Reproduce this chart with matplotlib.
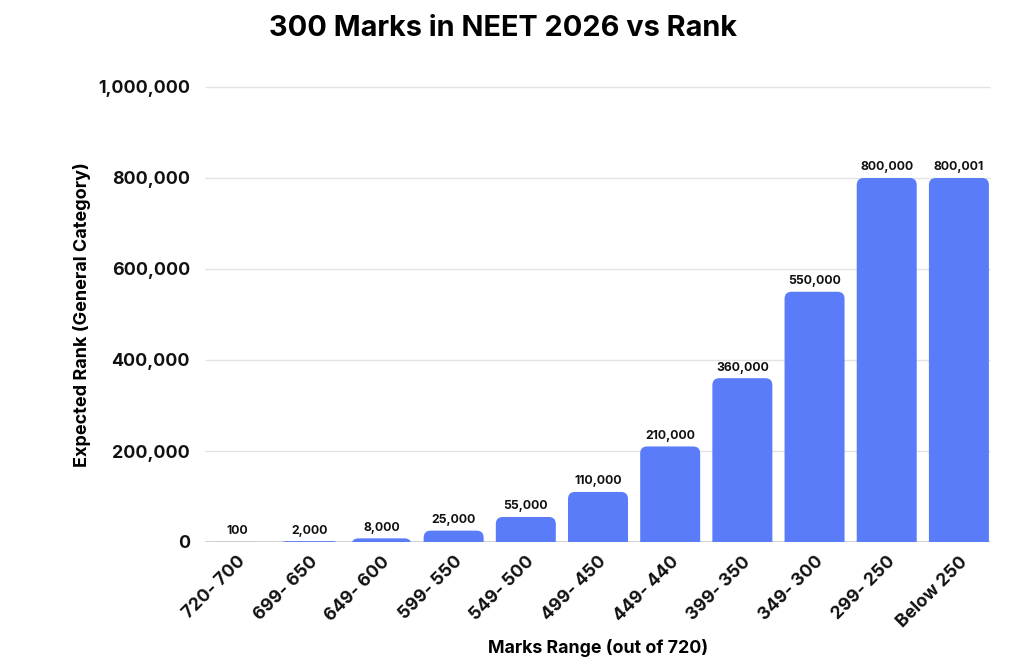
import matplotlib
matplotlib.use("Agg")
import matplotlib.pyplot as plt
from matplotlib.patches import FancyBboxPatch
from matplotlib.ticker import FuncFormatter

categories = ["720- 700", "699- 650", "649- 600", "599- 550", "549- 500", "499- 450",
              "449- 440", "399- 350", "349- 300", "299- 250", "Below 250"]
ranks = [100, 2000, 8000, 25000, 55000, 110000, 210000, 360000, 550000, 800000, 800001]
value_labels = ["100", "2,000", "8,000", "25,000", "55,000", "110,000", "210,000",
                "360,000", "550,000", "800,000", "800,001"]
yticks = [0, 200000, 400000, 600000, 800000, 1000000]

plt.rcParams['font.family'] = ['Inter', 'DejaVu Sans']
BAR = "#5A7CF8"

W, H = 1030, 665
fig = plt.figure(figsize=(W / 100, H / 100), dpi=100)
left, right, bottom_px, top_px = 201, 995, 542, 80
ymax = 1000000 * (bottom_px - top_px) / (bottom_px - 87)
ax = fig.add_axes([left / W, (H - bottom_px) / H, (right - left) / W, (bottom_px - top_px) / H])
ax.set_xlim(-0.5, len(categories) - 0.5)
ax.set_ylim(0, ymax)

xpx = (right - left) / len(categories)
ypx = (bottom_px - top_px) / ymax
bw = 60 / xpx
r_px = 7
for i, v in enumerate(ranks):
    ext = r_px * 2 / ypx
    p = FancyBboxPatch((i - bw / 2, -ext), bw, v + ext,
                       boxstyle=f"round,pad=0,rounding_size={r_px / xpx}",
                       mutation_aspect=xpx / ypx,
                       facecolor=BAR, edgecolor="none", zorder=3)
    ax.add_patch(p)
    ax.text(i, v + 10000, value_labels[i], ha="center", va="bottom",
            fontsize=8.8, fontweight="bold", color="#111111", zorder=4)

ax.set_yticks(yticks)
ax.yaxis.set_major_formatter(FuncFormatter(lambda v, p: f"{int(v):,}"))
ax.set_xticks(range(len(categories)))
ax.set_xticklabels(categories, rotation=45, ha="right", rotation_mode="anchor")
for lab in ax.get_yticklabels():
    lab.set_fontsize(12.8)
    lab.set_fontweight("bold")
    lab.set_color("#111111")
for lab in ax.get_xticklabels():
    lab.set_fontsize(12.8)
    lab.set_fontweight("bold")
    lab.set_color("#111111")
ax.tick_params(axis="both", length=0)
ax.tick_params(axis="y", pad=8)
ax.tick_params(axis="x", pad=8)
for s in ax.spines.values():
    s.set_visible(False)
x0 = -0.5 + 4 / xpx
x1 = len(categories) - 0.5 - 5 / xpx
ax.hlines(yticks[1:], x0, x1, color="#E3E3E3", linewidth=1, zorder=0, clip_on=False)
ax.hlines(0, x0, x1, color="#C8C8C8", linewidth=1.2, zorder=2)

fig.text(82 / W, 1 - 315 / H, "Expected Rank (General Category)", ha="center", va="center",
         rotation=90, fontsize=13, fontweight="bold")
fig.text(598 / W, 1 - 648 / H, "Marks Range (out of 720)", ha="center", va="center",
         fontsize=12.8, fontweight="bold")
fig.text(503 / W, 1 - 28 / H, "300 Marks in NEET 2026 vs Rank", ha="center", va="center",
         fontsize=20.8, fontweight="bold")

fig.savefig("out.png", dpi=100, facecolor="white")
